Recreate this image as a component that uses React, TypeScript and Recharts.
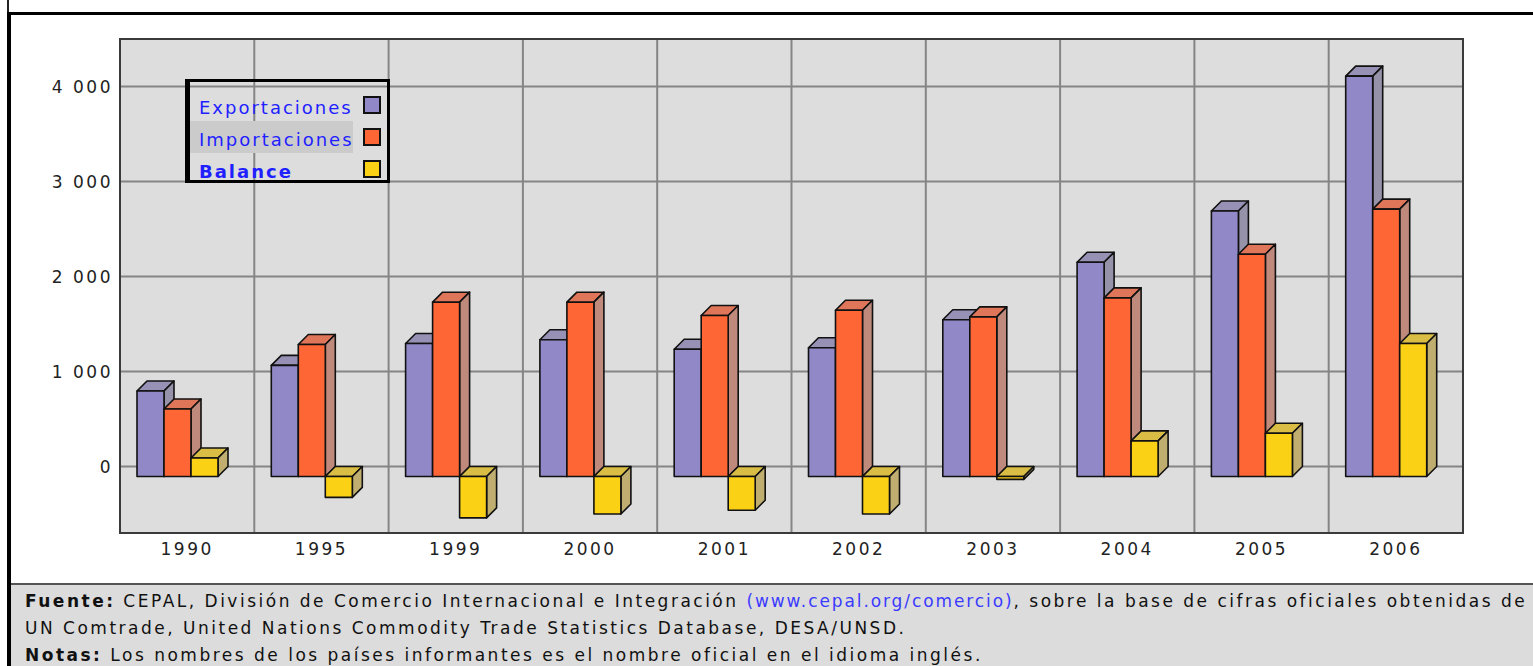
import React from "react";
import {
  BarChart,
  Bar,
  XAxis,
  YAxis,
  CartesianGrid,
  Legend,
  ReferenceArea,
} from "recharts";

const years = ["1990", "1995", "1999", "2000", "2001", "2002", "2003", "2004", "2005", "2006"];
const exportaciones = [900, 1170, 1400, 1440, 1340, 1355, 1650, 2255, 2795, 4215];
const importaciones = [710, 1390, 1835, 1835, 1695, 1750, 1680, 1880, 2340, 2815];
const balance = [195, -220, -435, -395, -355, -395, -30, 375, 455, 1400];
const yTicks = [0, 1000, 2000, 3000, 4000];

const data = years.map((year, i) => ({
  year,
  exportaciones: exportaciones[i],
  importaciones: importaciones[i],
  balance: balance[i],
}));

const series = [
  { key: "exportaciones", name: "Exportaciones", front: "#9189c7", top: "#9891b6", side: "#9592a9" },
  { key: "importaciones", name: "Importaciones", front: "#ff6636", top: "#df7559", side: "#bf8a7c" },
  { key: "balance", name: "Balance", front: "#fbd116", top: "#d9bd44", side: "#bfae6f" },
];

// 3d offset of the front face relative to the back face (back sits on the grid)
const DX = 10;
const DY = 10;
const FONT = "'DejaVu Sans', Verdana, sans-serif";

function makeBox(front: string, top: string, side: string) {
  return (props: any) => {
    const { x, y, width, height } = props;
    if (x == null || y == null || width == null || height == null) return <g />;
    const h = Math.abs(height);
    const y0 = height < 0 ? y + height : y;
    const fx = x - DX;
    const fy = y0 + DY;
    const w = width;
    const stroke = { stroke: "#111", strokeWidth: 1.6, strokeLinejoin: "round" as const };
    return (
      <g>
        <polygon
          points={`${fx},${fy} ${x},${y0} ${x + w},${y0} ${fx + w},${fy}`}
          fill={top}
          {...stroke}
        />
        <polygon
          points={`${fx + w},${fy} ${x + w},${y0} ${x + w},${y0 + h} ${fx + w},${fy + h}`}
          fill={side}
          {...stroke}
        />
        <rect x={fx} y={fy} width={w} height={h} fill={front} {...stroke} />
      </g>
    );
  };
}

function LegendBox() {
  return (
    <div
      style={{
        width: 205,
        height: 104,
        boxSizing: "border-box",
        border: "3px solid #000",
        borderLeftWidth: 5,
        overflow: "hidden",
        paddingTop: 7,
        fontFamily: FONT,
        fontSize: 18,
        letterSpacing: 2,
        color: "#1f1fff",
      }}
    >
      {series.map((s, i) => (
        <div key={s.key} style={{ display: "flex", height: 32, alignItems: "center" }}>
          <div
            style={{
              width: 163,
              height: 32,
              lineHeight: "32px",
              paddingLeft: 9,
              paddingTop: 3,
              boxSizing: "border-box",
              background: i === 1 ? "#cbcbcb" : "transparent",
              fontWeight: i === 2 ? "bold" : "normal",
              whiteSpace: "nowrap",
              overflow: "hidden",
            }}
          >
            {s.name}
          </div>
          <div
            style={{
              marginLeft: 10,
              width: 18,
              height: 18,
              boxSizing: "border-box",
              border: "2px solid #111",
              background: s.front,
            }}
          />
        </div>
      ))}
    </div>
  );
}

const tickStyle = { fontSize: 17, fill: "#222", fontFamily: FONT, letterSpacing: 2.5 };

export default function App() {
  return (
    <div
      style={{
        position: "absolute",
        left: 0,
        top: 0,
        width: 1533,
        height: 666,
        overflow: "hidden",
        background: "#fff",
        fontFamily: FONT,
      }}
    >
      <div style={{ position: "absolute", left: 7, top: 0, width: 2, height: 12, background: "#222" }} />
      <div
        style={{
          position: "absolute",
          left: 7,
          top: 12,
          width: 1600,
          height: 700,
          borderTop: "3px solid #000",
          borderLeft: "4px solid #000",
        }}
      />
      <div style={{ position: "absolute", left: 0, top: 0 }}>
        <BarChart
          width={1533}
          height={585}
          data={data}
          margin={{ top: 39, right: 70, bottom: 12, left: 0 }}
          barSize={27}
          barGap={0}
        >
          <CartesianGrid
            fill="#dddddd"
            stroke="#858585"
            strokeWidth={2}
            verticalCoordinatesGenerator={({ offset }: any) =>
              years.map((_, i) => offset.left + (i * offset.width) / years.length).concat(offset.left + offset.width)
            }
          />
          <XAxis
            dataKey="year"
            axisLine={false}
            tickLine={false}
            tickSize={0}
            tickMargin={10}
            height={40}
            tick={tickStyle}
            interval={0}
          />
          <YAxis
            domain={[-700, 4500]}
            ticks={yTicks}
            width={120}
            axisLine={false}
            tickLine={false}
            tickSize={0}
            tickMargin={7}
            tick={tickStyle}
            tickFormatter={(v: number) => v.toLocaleString("en-US").replace(/,/g, " ")}
          />
          <ReferenceArea y1={-700} y2={4500} fill="none" stroke="#3a3a3a" strokeWidth={2} ifOverflow="visible" />
          <Legend
            layout="vertical"
            align="center"
            verticalAlign="middle"
            content={<LegendBox />}
            wrapperStyle={{ left: 185, top: 79, width: 205, height: 104 }}
          />
          {series.map((s) => (
            <Bar
              key={s.key}
              dataKey={s.key}
              name={s.name}
              fill={s.front}
              shape={makeBox(s.front, s.top, s.side)}
              isAnimationActive={false}
            />
          ))}
        </BarChart>
      </div>
      <div
        style={{
          position: "absolute",
          left: 11,
          top: 583,
          width: 1522,
          height: 83,
          boxSizing: "border-box",
          borderTop: "2px solid #555",
          background: "#dcdcdc",
          paddingTop: 3,
          paddingLeft: 14,
          fontSize: 17,
          letterSpacing: 2.5,
          lineHeight: "27px",
          color: "#111",
          whiteSpace: "nowrap",
        }}
      >
        <div>
          <b>Fuente:</b> CEPAL, División de Comercio Internacional e Integración{" "}
          <span style={{ color: "#3b3bff", letterSpacing: 1.9 }}>(www.cepal.org/comercio)</span>, sobre la base de
          cifras oficiales obtenidas de
        </div>
        <div>UN Comtrade, United Nations Commodity Trade Statistics Database, DESA/UNSD.</div>
        <div>
          <b>Notas:</b> Los nombres de los países informantes es el nombre oficial en el idioma inglés.
        </div>
      </div>
    </div>
  );
}
